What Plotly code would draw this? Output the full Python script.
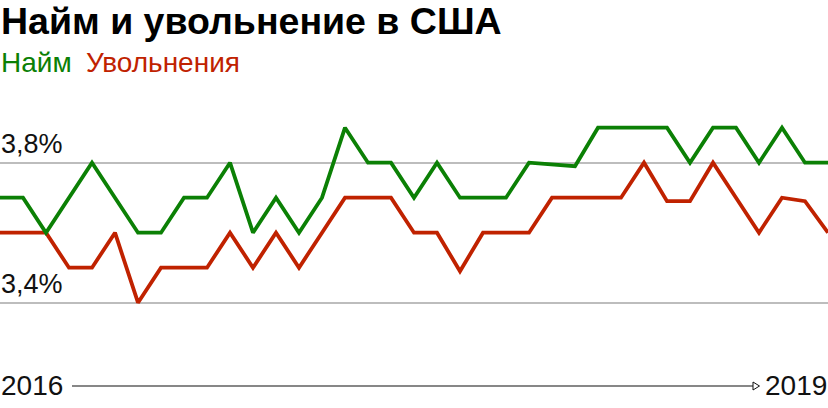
import plotly.graph_objects as go

months = [f"{y}-{m:02d}" for y in (2016, 2017, 2018) for m in range(1, 13)] + ["2019-01"]

hires = [3.7, 3.7, 3.6, 3.7, 3.8, 3.7, 3.6, 3.6, 3.7, 3.7, 3.8, 3.6,
         3.7, 3.6, 3.7, 3.9, 3.8, 3.8, 3.7, 3.8, 3.7, 3.7, 3.7, 3.8,
         3.795, 3.79, 3.9, 3.9, 3.9, 3.9, 3.8, 3.9, 3.9, 3.8, 3.9, 3.8, 3.8]
quits = [3.6, 3.6, 3.6, 3.5, 3.5, 3.6, 3.4, 3.5, 3.5, 3.5, 3.6, 3.5,
         3.6, 3.5, 3.6, 3.7, 3.7, 3.7, 3.6, 3.6, 3.49, 3.6, 3.6, 3.6,
         3.7, 3.7, 3.7, 3.7, 3.8, 3.69, 3.69, 3.8, 3.7, 3.6, 3.7, 3.69, 3.6]

grid_vals = [3.4, 3.8]
grid_labels = ["3,4%", "3,8%"]
series_names = ["Найм", "Увольнения"]
colors = ["#0b8005", "#c02200"]

W, H = 828, 408
FONT = "Liberation Sans, Arial, sans-serif"

fig = go.Figure()
fig.add_trace(go.Scatter(x=months, y=quits, mode="lines", name=series_names[1],
                         line=dict(color=colors[1], width=3.8), hoverinfo="skip"))
fig.add_trace(go.Scatter(x=months, y=hires, mode="lines", name=series_names[0],
                         line=dict(color=colors[0], width=3.8), hoverinfo="skip"))

ymax = 3.8 + 162.7 / 350
ymin = ymax - H / 350

def py(px):
    return 1 - px / H

def pxx(px):
    return px / W

fig.update_layout(
    width=W, height=H,
    margin=dict(l=0, r=0, t=0, b=0),
    paper_bgcolor="white", plot_bgcolor="white",
    showlegend=False,
    font=dict(family=FONT, color="#111"),
    xaxis=dict(type="category", range=[0, len(months) - 1], showgrid=False,
               showticklabels=False, zeroline=False, showline=False, ticks=""),
    yaxis=dict(range=[ymin, ymax], tickvals=grid_vals, showticklabels=False,
               showgrid=True, gridcolor="#bdbdbd", gridwidth=1.6,
               zeroline=False, showline=False, ticks=""),
)

annotations = [
    dict(text="<b>Найм и увольнение в США</b>", x=0, y=py(21), xref="paper", yref="paper",
         xanchor="left", yanchor="middle", showarrow=False, borderpad=0,
         font=dict(size=37.5, color="#000")),
    dict(text=series_names[0], x=0, y=py(62), xref="paper", yref="paper",
         xanchor="left", yanchor="middle", showarrow=False, borderpad=0,
         font=dict(size=28, color=colors[0])),
    dict(text=series_names[1], x=pxx(85), y=py(62), xref="paper", yref="paper",
         xanchor="left", yanchor="middle", showarrow=False, borderpad=0,
         font=dict(size=28, color=colors[1])),
    dict(text="2016", x=0, y=py(385), xref="paper", yref="paper",
         xanchor="left", yanchor="middle", showarrow=False, borderpad=0,
         font=dict(size=28, color="#111")),
    dict(text="2019", x=1, y=py(385), xref="paper", yref="paper",
         xanchor="right", yanchor="middle", showarrow=False, borderpad=0,
         font=dict(size=28, color="#111")),
]
for v, lab in zip(grid_vals, grid_labels):
    annotations.append(dict(text=lab, x=0, y=v, xref="paper", yref="y",
                            xanchor="left", yanchor="bottom", yshift=3, showarrow=False,
                            borderpad=0, font=dict(size=27, color="#111")))
fig.update_layout(annotations=annotations)

ay = py(386)
shapes = [
    dict(type="line", xref="paper", yref="paper", x0=pxx(72), x1=pxx(753), y0=ay, y1=ay,
         line=dict(color="#111", width=1.2)),
    dict(type="path", xref="paper", yref="paper",
         path=f"M {pxx(753)} {py(382)} L {pxx(759.5)} {py(386)} L {pxx(753)} {py(390)} Z",
         line=dict(color="#111", width=1), fillcolor="white"),
]
fig.update_layout(shapes=shapes)

fig.write_html("out.html", config={"displayModeBar": False},
               post_script="document.body.style.margin='0';document.body.style.overflow='hidden';")
